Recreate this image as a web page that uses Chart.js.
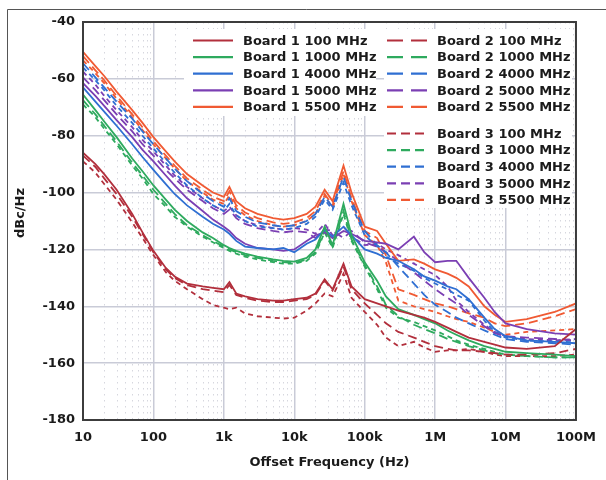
<!DOCTYPE html>
<html>
<head>
<meta charset="utf-8">
<script src="https://cdn.jsdelivr.net/npm/chart.js@4.4.1/dist/chart.umd.min.js"></script>
<style>
  body { margin: 0; background: #fff; }
  #wrap { width: 606px; height: 480px; }
</style>
</head>
<body>
<div id="wrap"><canvas id="noiseChart" width="606" height="480"></canvas></div>
<script>
// Offset frequencies (Hz), shared by every trace
const freqHz = [10, 15, 20, 30, 50, 70, 100, 150, 200, 300, 500, 700,
    1e3, 1.2e3, 1.5e3, 2e3, 3e3, 5e3, 7e3, 1e4, 1.5e4, 2e4, 2.7e4, 3.5e4, 5e4, 6.5e4,
    1e5, 1.5e5, 2e5, 3e5, 5e5, 7e5, 1e6, 1.5e6, 2e6, 3e6, 5e6, 7e6, 1e7, 2e7, 5e7, 1e8];

// Phase noise, dBc/Hz
const b1_100  = [-86, -90, -93.5, -99, -107.5, -114, -120.5, -126.5, -129.5, -132, -133, -133.5, -134, -131.5, -135.5, -136.5, -137.5, -138, -138, -137.5, -137, -135.5, -130.5, -134, -125, -133, -137.5, -139, -140, -141.5, -143, -144, -145.5, -147.5, -149, -151, -152.5, -153.5, -154.5, -155, -154, -148];
const b2_100  = [-87, -91, -95, -100.5, -108.5, -114.5, -121, -127, -130, -132.5, -134, -134.5, -135, -132.5, -136, -137, -138, -138.5, -138.5, -138, -137.5, -136, -131, -134.5, -126, -134, -139, -143, -146, -149, -151, -152.5, -154, -155, -155.5, -155.5, -156, -156.5, -157, -157, -156.5, -155];
const b3_100  = [-89, -93, -97, -102.5, -110.5, -116, -122, -128, -131, -134, -137.5, -139.5, -140.5, -141, -140.5, -142.5, -143.5, -144, -144.3, -144, -141.5, -139, -135.5, -136.5, -128.5, -137, -142, -146.5, -151, -154, -152.5, -154.5, -156, -155.5, -155.5, -155, -156, -157, -157.5, -157.5, -157.5, -157];

const b1_1000 = [-65.5, -71, -75, -80.5, -88, -92.5, -97.5, -102.5, -106, -110, -114, -116, -118.5, -119.5, -120.5, -121.5, -122.5, -123.5, -124, -124.3, -123, -120, -112, -118.5, -104, -115, -124.5, -131, -136.5, -141, -143, -144.5, -146, -148.5, -150, -152, -154, -155, -156, -156.5, -157, -157.5];
const b2_1000 = [-67.5, -72.5, -76.5, -82, -89.5, -94, -99, -104, -107.5, -111.5, -115, -117, -119, -120, -121, -122, -123, -124, -124.5, -124.8, -123.5, -121, -113.5, -119, -106.5, -116.5, -125.5, -133, -139.5, -143.5, -146.5, -148, -149.5, -151.5, -152.5, -154, -155.5, -156.5, -157, -157.5, -158, -158];
const b3_1000 = [-69, -73.5, -77.5, -83, -90.5, -95, -100.5, -105, -108.5, -112, -115.5, -117.5, -119.5, -120.5, -121.5, -122.5, -123.5, -124.5, -125, -125, -124, -121.5, -114, -119.5, -107.5, -117, -126, -134, -140.5, -144, -145.5, -147, -148.5, -150.5, -152, -153.5, -155, -156, -157, -157.5, -158, -158];

const b1_4000 = [-63, -68, -71.5, -76.5, -83, -87.5, -92, -97, -100.5, -104.5, -108.5, -111, -113, -114.5, -117, -119, -119.5, -120, -119.5, -121, -118, -116.5, -113, -115.5, -112, -115, -120, -121.5, -123, -124, -127, -129.5, -131, -133, -134, -137.5, -144, -148, -150.5, -152, -152.5, -153];
const b2_4000 = [-54.5, -59.5, -63, -68, -74, -78.5, -83, -88, -91.5, -96, -100.5, -103, -105, -102, -106.5, -108.5, -110.5, -111.5, -112, -111.5, -110, -107.5, -101.5, -105, -94.5, -103, -113.5, -118.5, -121, -126, -132, -136, -139.5, -142, -144, -146, -148.5, -150, -151.5, -152.5, -153, -153.5];
const b3_4000 = [-56, -60.5, -64, -69.5, -75.5, -80, -84.5, -89.5, -93, -97.5, -102, -104.5, -106.5, -104, -108, -110, -112, -112.5, -113, -112.5, -111, -108.5, -102.5, -106, -96.5, -104.5, -115, -119, -122.5, -125, -127.5, -130, -132, -134, -136, -138, -145, -149, -151, -152, -152.5, -152];

const b1_5000 = [-61.5, -66, -69.5, -74.5, -80.5, -85, -89, -94, -97.5, -102, -106.5, -109.5, -112, -113.5, -116, -118, -119.5, -120, -120.5, -120, -117, -115, -114, -116, -113.5, -114.5, -117, -117.5, -118, -120, -115.5, -121, -124.5, -124, -124, -130, -137, -142, -146, -148, -149.5, -150];
const b2_5000 = [-59.5, -64, -67.5, -72.5, -78.5, -83, -87, -92, -95, -99, -103, -105.5, -107.5, -106, -109, -111, -112.5, -113.5, -114, -113.5, -114, -116, -113, -113.5, -116, -113.5, -117.5, -119, -121, -124, -128, -131, -134, -137, -139, -143, -147, -149.5, -150.5, -151, -151.5, -152];
const b3_5000 = [-57.5, -62, -66, -71, -77, -81.5, -85.5, -90.5, -94, -98, -102, -104.5, -106.5, -105, -108, -110, -111.5, -112.5, -113, -112.5, -113, -114.5, -111, -115, -112, -115.5, -118.5, -118, -120, -122, -125, -127, -129, -133, -138, -142, -146.5, -149, -150.5, -151.5, -152, -151.5];

const b1_5500 = [-50.5, -55.5, -59, -64.5, -71, -75.5, -80.5, -85.5, -89, -93.5, -97.5, -100, -101.5, -98, -103, -105.5, -107.5, -109, -109.5, -109, -107.5, -105, -99, -103, -90.5, -100, -112, -113.5, -118, -124, -123.5, -125, -127, -128.5, -130, -133, -140, -143, -145.5, -144.5, -142, -139];
const b2_5500 = [-52, -57, -60.5, -66, -72.5, -77, -82, -87, -90.5, -95, -99, -101.5, -103, -99.5, -104.5, -107, -109, -110.5, -111, -110.5, -109, -106.5, -100.5, -104.5, -92.5, -102, -113.5, -116, -122, -134, -136, -137.5, -139, -140, -141, -142.5, -144, -146, -147, -146, -143.5, -141];
const b3_5500 = [-53.5, -58, -61.5, -67, -73.5, -78, -83, -88, -91.5, -96, -100, -102.5, -104, -101, -105.5, -108, -110, -111.5, -112, -111.5, -110, -107.5, -101, -105.5, -93.5, -103, -115, -118.5, -124.5, -138, -140, -141, -142, -143.5, -144.5, -145.5, -147.5, -149, -150, -149, -148.5, -148];

// Axis ticks
const xTickValues = [10, 100, 1e3, 1e4, 1e5, 1e6, 1e7, 1e8];
const xTickLabels = ['10', '100', '1k', '10k', '100k', '1M', '10M', '100M'];
const yTickValues = [-180, -160, -140, -120, -100, -80, -60, -40];

const colores = {
    '100': '#b22f3c',
    '1000': '#2eaa5e',
    '4000': '#2f6fd2',
    '5000': '#7b3fb3',
    '5500': '#f05a33'
};
const dashes = { 1: [], 2: [9, 5], 3: [5, 4] };

const series = [
    { board: 1, mhz: '100', data: b1_100 },
    { board: 1, mhz: '1000', data: b1_1000 },
    { board: 1, mhz: '4000', data: b1_4000 },
    { board: 1, mhz: '5000', data: b1_5000 },
    { board: 1, mhz: '5500', data: b1_5500 },
    { board: 2, mhz: '100', data: b2_100 },
    { board: 2, mhz: '1000', data: b2_1000 },
    { board: 2, mhz: '4000', data: b2_4000 },
    { board: 2, mhz: '5000', data: b2_5000 },
    { board: 2, mhz: '5500', data: b2_5500 },
    { board: 3, mhz: '100', data: b3_100 },
    { board: 3, mhz: '1000', data: b3_1000 },
    { board: 3, mhz: '4000', data: b3_4000 },
    { board: 3, mhz: '5000', data: b3_5000 },
    { board: 3, mhz: '5500', data: b3_5500 }
];

const FONT = '"DejaVu Sans", sans-serif';

// Rejilla menor, marco y leyenda propia
const decor = {
    id: 'decor',
    beforeDatasetsDraw(chart) {
        const { ctx, chartArea: a, scales } = chart;
        ctx.save();
        ctx.strokeStyle = '#d6d7de';
        ctx.lineWidth = 1;
        ctx.setLineDash([1.5, 4.5]);
        for (let d = 10; d < 1e8; d *= 10) {
            for (let m = 2; m <= 9; m++) {
                const x = Math.round(scales.x.getPixelForValue(d * m)) + 0.5;
                ctx.beginPath();
                ctx.moveTo(x, a.top);
                ctx.lineTo(x, a.bottom);
                ctx.stroke();
            }
        }
        ctx.restore();
    },
    afterDatasetsDraw(chart) {
        const { ctx, chartArea: a } = chart;
        ctx.save();
        ctx.strokeStyle = '#3c3c3c';
        ctx.lineWidth = 2;
        ctx.strokeRect(a.left, a.top, a.right - a.left, a.bottom - a.top);
        ctx.restore();
    },
    afterDraw(chart) {
        const { ctx, chartArea: a } = chart;
        ctx.save();

        // marco exterior
        ctx.strokeStyle = '#555';
        ctx.lineWidth = 1;
        ctx.beginPath();
        ctx.moveTo(7.5, 480);
        ctx.lineTo(7.5, 9.5);
        ctx.lineTo(606, 9.5);
        ctx.stroke();

        // leyenda
        ctx.fillStyle = '#fff';
        ctx.fillRect(184, 29, 192, 87);
        ctx.fillRect(384, 29, 188, 179);
        ctx.font = 'bold 13px ' + FONT;
        ctx.textBaseline = 'middle';
        chart.data.datasets.forEach((ds, i) => {
            const s = series[i];
            const k = (s.board === 1 ? i : s.board === 2 ? i - 5 : i - 10);
            const col = s.board === 1 ? 0 : 1;
            const x0 = col === 0 ? 193 : 387;
            const y = s.board === 3 ? 133.5 + k * 16.6 : 40.5 + k * 16.6;
            ctx.strokeStyle = ds.borderColor;
            ctx.lineWidth = 2.2;
            ctx.setLineDash(dashes[s.board].length ? (s.board === 2 ? [16, 8] : [9, 5]) : []);
            ctx.beginPath();
            ctx.moveTo(x0, y);
            ctx.lineTo(x0 + 40, y);
            ctx.stroke();
            ctx.setLineDash([]);
            ctx.fillStyle = '#1a1a1a';
            ctx.textAlign = 'left';
            ctx.fillText(ds.label, x0 + 50, y + 1);
        });

        // títulos de ejes
        ctx.fillStyle = '#1a1a1a';
        ctx.textAlign = 'center';
        ctx.fillText('Offset Frequency (Hz)', (a.left + a.right) / 2, 463);
        ctx.translate(21, (a.top + a.bottom) / 2 - 8);
        ctx.rotate(-Math.PI / 2);
        ctx.fillText('dBc/Hz', 0, 0);
        ctx.restore();
    }
};

const ctx = document.getElementById('noiseChart').getContext('2d');
new Chart(ctx, {
    type: 'line',
    data: {
        datasets: series.map(s => ({
            label: 'Board ' + s.board + ' ' + s.mhz + ' MHz',
            data: freqHz.map((f, i) => ({ x: f, y: s.data[i] })),
            borderColor: colores[s.mhz],
            borderWidth: 1.8,
            borderDash: dashes[s.board],
            pointRadius: 0,
            tension: 0,
            fill: false
        }))
    },
    options: {
        responsive: false,
        animation: false,
        devicePixelRatio: 1,
        layout: { padding: { left: 0, right: 24, top: 22, bottom: 0 } },
        plugins: {
            legend: { display: false },
            tooltip: { enabled: false }
        },
        scales: {
            x: {
                type: 'logarithmic',
                min: 10,
                max: 1e8,
                afterBuildTicks: axis => { axis.ticks = xTickValues.map(v => ({ value: v })); },
                afterFit: axis => { axis.height = 60; },
                grid: { color: '#c9cbd7', lineWidth: 1.5, drawTicks: false },
                border: { display: false },
                ticks: {
                    autoSkip: false,
                    maxRotation: 0,
                    padding: 10,
                    color: '#1a1a1a',
                    font: { family: FONT, size: 13, weight: 'bold' },
                    callback: function(value) {
                        const i = xTickValues.indexOf(value);
                        return i >= 0 ? xTickLabels[i] : '';
                    }
                }
            },
            y: {
                min: -180,
                max: -40,
                afterBuildTicks: axis => { axis.ticks = yTickValues.map(v => ({ value: v })); },
                afterFit: axis => { axis.width = 83; },
                grid: { color: '#c9cbd7', lineWidth: 1.5, drawTicks: false },
                border: { display: false },
                ticks: {
                    padding: 8,
                    color: '#1a1a1a',
                    font: { family: FONT, size: 13, weight: 'bold' }
                }
            }
        }
    },
    plugins: [decor]
});
</script>
</body>
</html>
